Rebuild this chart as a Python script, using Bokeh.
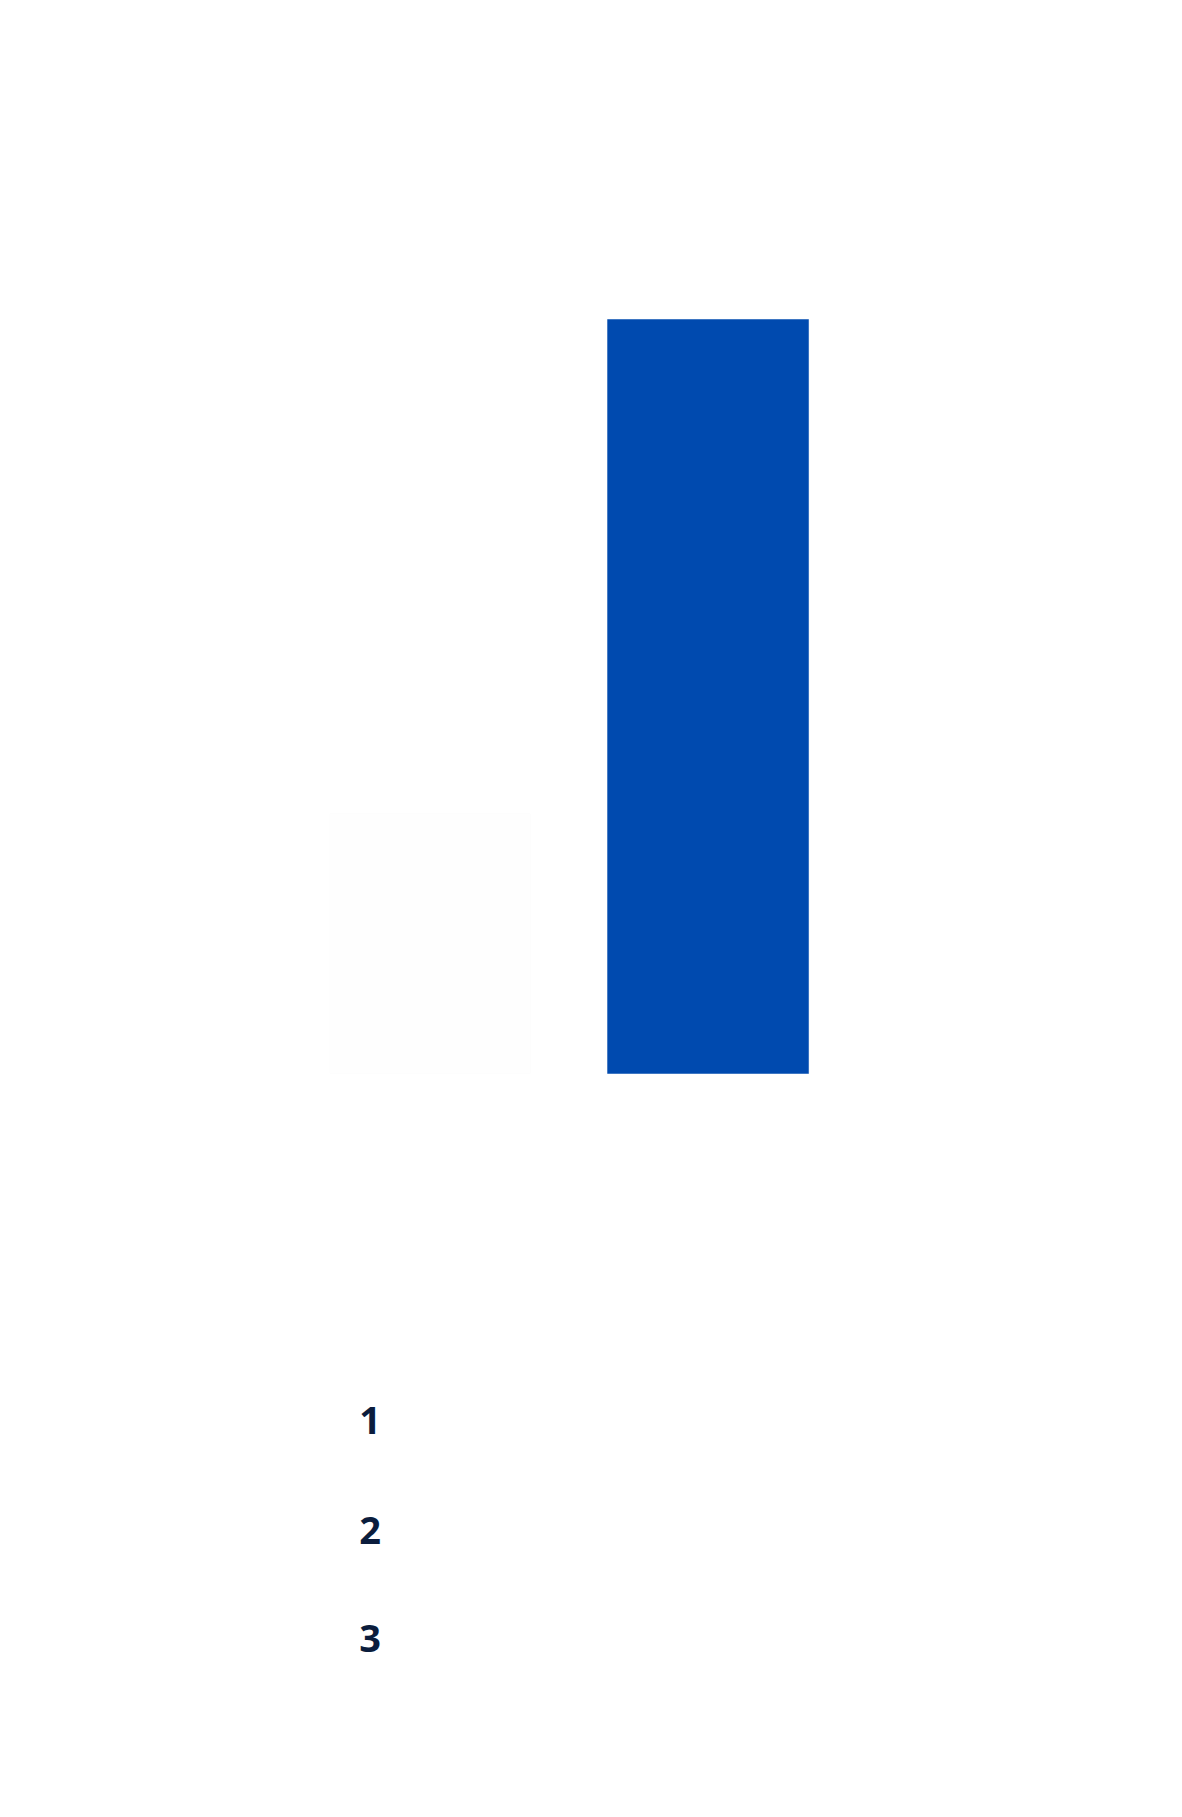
from bokeh.plotting import figure
from bokeh.models import Range1d, ColumnDataSource
from bokeh.embed import file_html
from bokeh.resources import INLINE
from bokeh.core.properties import value

# data
categories = ["A", "B"]
positions = [1, 2]
values = [34.5, 100.0]
bar_colors = ["#fefefe", "#004AAF"]
edge_colors = ["#fdfdfd", "#004AAF"]
rank_labels = ["1", "2", "3"]
rank_y = [-46.0, -60.6, -74.9]

W, H = 1166, 1800
p = figure(width=W, height=H, output_backend="svg", toolbar_location=None,
           x_range=Range1d(-0.545, 3.649), y_range=Range1d(-96.42, 142.31),
           min_border=0, outline_line_color=None, background_fill_color="white",
           border_fill_color="white")
p.axis.visible = False
p.grid.visible = False

src = ColumnDataSource(dict(x=positions, top=values, color=bar_colors,
                            edge=edge_colors, cat=categories))
p.vbar(x="x", top="top", bottom=0, width=0.723, fill_color="color",
       line_color="edge", line_width=0.5, source=src)

lab = ColumnDataSource(dict(x=[0.745] * len(rank_labels), y=rank_y, text=rank_labels))
p.text(x="x", y="y", text="text", source=lab, text_align="left", text_baseline="middle",
       text_font=value("Open Sans"), text_font_style="bold", text_font_size="38px",
       text_color="#0b1d3d")

open("out.html", "w").write(file_html(p, INLINE))
